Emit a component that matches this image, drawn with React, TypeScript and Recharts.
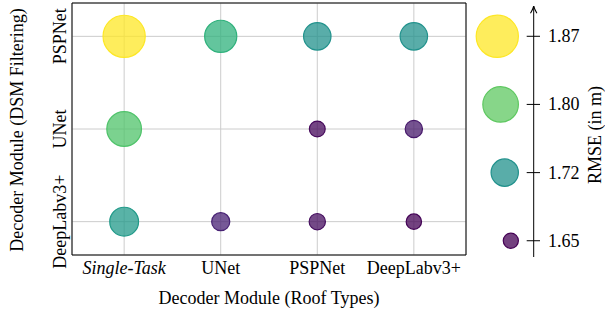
import React from "react";
import { ScatterChart, Scatter, XAxis, YAxis, ZAxis, CartesianGrid, ReferenceArea } from "recharts";

// x: decoder for roof types, y: decoder for DSM filtering (bottom to top)
const roofTypes = ["Single-Task", "UNet", "PSPNet", "DeepLabv3+"];
const dsmFilters = ["DeepLabv3+", "UNet", "PSPNet"];

// RMSE in m per DSM row, one value per roof type column (null = no run)
const rmseDeepLab = [1.735, 1.664, 1.655, 1.651];
const rmseUNet = [1.788, null, 1.653, 1.66];
const rmsePSPNet = [1.87, 1.764, 1.724, 1.724];

const legendTicks = [1.65, 1.7233, 1.7967, 1.87];

const rows = [rmseDeepLab, rmseUNet, rmsePSPNet];
const points = rows.flatMap((row, j) =>
  row.flatMap((v, i) => (v == null ? [] : [{ x: i, y: j, rmse: v }]))
);
const legendPoints = legendTicks.map((v) => ({ x: 1, rmse: v }));

const FONT = "'Liberation Serif', 'Times New Roman', serif";
const RMSE_DOMAIN = [1.65, 1.87];
const AREA_RANGE = [180, 1400];

const viridis = [
  "#440154", "#482475", "#414487", "#355f8d", "#2a788e", "#21918c",
  "#22a884", "#44bf70", "#7ad151", "#bddf26", "#fde725",
];
// where each legend step sits on the colormap
const colorStops = [0, 0.5, 0.75, 1];

function hex(c: string) {
  return [1, 3, 5].map((k) => parseInt(c.slice(k, k + 2), 16));
}

function viridisAt(t: number) {
  const p = Math.max(0, Math.min(1, t)) * (viridis.length - 1);
  const i = Math.min(Math.floor(p), viridis.length - 2);
  const f = p - i;
  const a = hex(viridis[i]);
  const b = hex(viridis[i + 1]);
  const c = a.map((v, k) => Math.round(v + (b[k] - v) * f));
  return `rgb(${c[0]},${c[1]},${c[2]})`;
}

function rmseColor(v: number) {
  for (let k = 0; k < legendTicks.length - 1; k++) {
    if (v <= legendTicks[k + 1] || k === legendTicks.length - 2) {
      const f = (v - legendTicks[k]) / (legendTicks[k + 1] - legendTicks[k]);
      return viridisAt(colorStops[k] + f * (colorStops[k + 1] - colorStops[k]));
    }
  }
  return viridisAt(0);
}

const Bubble = (props: any) => {
  const { cx, cy, size, payload, shift } = props;
  const r = Math.sqrt((size ?? 100) / Math.PI);
  const c = rmseColor(payload.rmse);
  const x = shift ? cx - shift - r : cx;
  return <circle cx={x} cy={cy} r={r} fill={c} fillOpacity={0.75} stroke={c} strokeWidth={1.2} />;
};

const RoofTick = (props: any) => {
  const { x, y, payload } = props;
  return (
    <text x={x} y={y + 18.5} textAnchor="middle" fontFamily={FONT} fontSize={18} fill="#000"
      fontStyle={payload.value === 0 ? "italic" : "normal"}>
      {roofTypes[payload.value]}
    </text>
  );
};

const DsmTick = (props: any) => {
  const { x, y, payload } = props;
  return (
    <text transform={`translate(${x - 6.5},${y}) rotate(-90)`} textAnchor="middle"
      fontFamily={FONT} fontSize={18} fill="#000">
      {dsmFilters[payload.value]}
    </text>
  );
};

const RmseTick = (props: any) => {
  const { x, y, payload } = props;
  return (
    <g>
      <line x1={x - 7} x2={x + 6.3} y1={y} y2={y} stroke="#000" strokeWidth={1} />
      <text x={x + 14.3} y={y + 6} fontFamily={FONT} fontSize={18} fill="#000">
        {payload.value.toFixed(2)}
      </text>
    </g>
  );
};

export default function App() {
  return (
    <div style={{ position: "absolute", left: 0, top: 0, width: 605, height: 312, background: "#fff" }}>
      <div style={{ position: "absolute", left: 0, top: 0 }}>
        <ScatterChart width={480} height={312} margin={{ top: 3, right: 14, bottom: 0, left: 0 }}>
          <CartesianGrid stroke="#cccccc" strokeWidth={1} />
          <XAxis type="number" dataKey="x" domain={[-0.54, 3.54]} ticks={[0, 1, 2, 3]} interval={0}
            height={57} tickSize={0} tickMargin={0} tickLine={false} axisLine={false} tick={<RoofTick />}
            label={{
              content: ({ viewBox }: any) => (
                <text x={viewBox.x + viewBox.width / 2} y={viewBox.y + 49} textAnchor="middle"
                  fontFamily={FONT} fontSize={18} fill="#000">
                  Decoder Module (Roof Types)
                </text>
              ),
            }} />
          <YAxis type="number" dataKey="y" domain={[-0.36, 2.36]} ticks={[0, 1, 2]} interval={0}
            width={72} tickSize={0} tickMargin={0} tickLine={false} axisLine={false} tick={<DsmTick />}
            label={{
              content: ({ viewBox }: any) => (
                <text transform={`translate(23,${viewBox.y + viewBox.height / 2 + 1})  rotate(-90)`}
                  textAnchor="middle" fontFamily={FONT} fontSize={18} fill="#000">
                  Decoder Module (DSM Filtering)
                </text>
              ),
            }} />
          <ZAxis type="number" dataKey="rmse" domain={RMSE_DOMAIN} range={AREA_RANGE} />
          <ReferenceArea x1={-0.54} x2={3.54} y1={-0.36} y2={2.36} fill="none" stroke="#000"
            strokeWidth={1} fillOpacity={0} />
          <Scatter data={points} shape={<Bubble />} isAnimationActive={false} />
        </ScatterChart>
      </div>
      <div style={{ position: "absolute", left: 460, top: 0 }}>
        <ScatterChart width={145} height={312} margin={{ top: 6, right: 0, bottom: 55, left: 0 }}>
          <defs>
            <marker id="rmseArrow" viewBox="0 0 10 10" refX="10" refY="5" markerWidth="8" markerHeight="8"
              markerUnits="userSpaceOnUse" orient="auto-start-reverse">
              <path d="M1,1 Q6,4 10,5 Q6,6 1,9" fill="none" stroke="#000" strokeWidth={1.3} />
            </marker>
          </defs>
          <XAxis type="number" dataKey="x" domain={[0, 1]} hide />
          <YAxis yAxisId="rmse" orientation="right" type="number" dataKey="rmse"
            domain={[1.6325, 1.9026]} ticks={legendTicks} interval={0} width={71.3}
            tickSize={0} tickMargin={0} tickLine={false}
            axisLine={{ stroke: "#000", strokeWidth: 1, markerStart: "url(#rmseArrow)" }}
            tick={<RmseTick />}
            label={{
              content: () => (
                <text transform="translate(141,135) rotate(-90)" textAnchor="middle"
                  fontFamily={FONT} fontSize={18} fill="#000">
                  RMSE (in m)
                </text>
              ),
            }} />
          <ZAxis type="number" dataKey="rmse" domain={RMSE_DOMAIN} range={AREA_RANGE} />
          <Scatter yAxisId="rmse" data={legendPoints} shape={<Bubble shift={15.3} />} isAnimationActive={false} />
        </ScatterChart>
      </div>
    </div>
  );
}
